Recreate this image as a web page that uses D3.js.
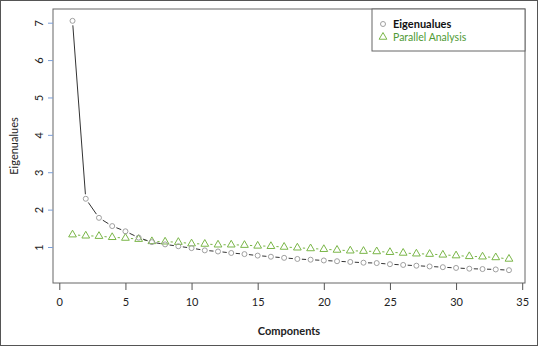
<!DOCTYPE html>
<html>
<head>
<meta charset="utf-8">
<script src="https://cdn.jsdelivr.net/npm/d3@7"></script>
<style>
  body { margin: 0; background: #fff; }
  svg text { font-family: Lato, "Open Sans", sans-serif; }
</style>
</head>
<body>
<div id="chart"></div>
<script>
// components 1..34
var components = d3.range(1, 35);
var eigenvalues = [7.05, 2.29, 1.78, 1.56, 1.42, 1.25, 1.13, 1.07, 1.02, 0.97,
                   0.91, 0.88, 0.84, 0.81, 0.77, 0.74, 0.71, 0.68, 0.66, 0.64,
                   0.62, 0.60, 0.58, 0.57, 0.54, 0.52, 0.50, 0.48, 0.46, 0.44,
                   0.42, 0.41, 0.40, 0.38];
var parallel = [1.33, 1.30, 1.29, 1.26, 1.24, 1.21, 1.15, 1.14, 1.13, 1.09,
                1.08, 1.06, 1.06, 1.05, 1.03, 1.02, 1.00, 0.98, 0.96, 0.94,
                0.92, 0.90, 0.89, 0.88, 0.86, 0.84, 0.82, 0.81, 0.79, 0.77,
                0.75, 0.74, 0.72, 0.68];
var xTicks = [0, 5, 10, 15, 20, 25, 30, 35];
var yTicks = [1, 2, 3, 4, 5, 6, 7];
var legendLabels = ["Eigenualues", "Parallel Analysis"];

function init() {
    var w = 538, h = 346;
    var box = {left: 53, top: 9, right: 525, bottom: 283};

    var xScale = d3.scaleLinear().domain([0, 35]).range([59.3, 522.2]);
    var yScale = d3.scaleLinear().domain([1, 7]).range([247, 22.7]);

    var svg = d3.select("#chart").append("svg")
        .attr("width", w)
        .attr("height", h);

    // outer frame
    svg.append("rect")
        .attr("x", 0.5).attr("y", 0.5)
        .attr("width", w - 1).attr("height", h - 1)
        .attr("fill", "#fff").attr("stroke", "#555");

    // plot box
    svg.append("rect")
        .attr("x", box.left).attr("y", box.top)
        .attr("width", box.right - box.left).attr("height", box.bottom - box.top)
        .attr("fill", "none").attr("stroke", "#666");

    // x axis
    var xAxis = d3.axisBottom(xScale).tickValues(xTicks).tickSize(7).tickPadding(8)
        .tickFormat(d3.format("d"));
    var gx = svg.append("g")
        .attr("transform", "translate(0," + box.bottom + ")")
        .call(xAxis);
    gx.select(".domain").remove();
    gx.selectAll(".tick line").attr("stroke", "#555");
    gx.selectAll(".tick text")
        .attr("font-size", 11).attr("fill", "#222")
        .attr("font-family", "Lato, sans-serif");

    // y axis
    var yAxis = d3.axisLeft(yScale).tickValues(yTicks).tickSize(5).tickPadding(0)
        .tickFormat(d3.format("d"));
    var gy = svg.append("g")
        .attr("transform", "translate(" + box.left + ",0)")
        .call(yAxis);
    gy.select(".domain").remove();
    gy.selectAll(".tick line").attr("stroke", "#7c9fd8");
    gy.selectAll(".tick text")
        .attr("font-size", 11).attr("fill", "#222")
        .attr("font-family", "Lato, sans-serif")
        .attr("text-anchor", "middle")
        .attr("dy", null)
        .attr("x", null)
        .attr("transform", "translate(-15,0) rotate(-90)")
        .attr("dominant-baseline", "central");

    // axis labels
    svg.append("text")
        .attr("x", (box.left + box.right) / 2)
        .attr("y", 335)
        .attr("text-anchor", "middle")
        .attr("font-size", 11)
        .attr("font-weight", "bold")
        .attr("fill", "#222")
        .text("Components");

    svg.append("text")
        .attr("transform", "translate(18," + ((box.top + box.bottom) / 2) + ") rotate(-90)")
        .attr("text-anchor", "middle")
        .attr("font-size", 11)
        .attr("fill", "#222")
        .text("Eigenualues");

    // segments between points, with a gap round each point (like type = "b")
    function gapped(values, gap) {
        var segs = [];
        for (var i = 0; i < values.length - 1; i++) {
            var x1 = xScale(components[i]), y1 = yScale(values[i]);
            var x2 = xScale(components[i + 1]), y2 = yScale(values[i + 1]);
            var dx = x2 - x1, dy = y2 - y1, len = Math.sqrt(dx * dx + dy * dy);
            if (len > 2 * gap) {
                var ux = dx / len, uy = dy / len;
                segs.push([x1 + ux * gap, y1 + uy * gap, x2 - ux * gap, y2 - uy * gap]);
            }
        }
        return segs;
    }

    svg.selectAll(".pa-seg")
        .data(gapped(parallel, 5.5))
        .enter().append("line")
        .attr("class", "pa-seg")
        .attr("x1", function(d) { return d[0]; })
        .attr("y1", function(d) { return d[1]; })
        .attr("x2", function(d) { return d[2]; })
        .attr("y2", function(d) { return d[3]; })
        .attr("stroke", "#7ab648")
        .attr("stroke-width", 1);

    svg.selectAll(".eig-seg")
        .data(gapped(eigenvalues, 4.5))
        .enter().append("line")
        .attr("class", "eig-seg")
        .attr("x1", function(d) { return d[0]; })
        .attr("y1", function(d) { return d[1]; })
        .attr("x2", function(d) { return d[2]; })
        .attr("y2", function(d) { return d[3]; })
        .attr("stroke", "#333")
        .attr("stroke-width", 1);

    var tri = d3.symbol().type(d3.symbolTriangle).size(26);

    svg.selectAll(".pa-pt")
        .data(parallel)
        .enter().append("path")
        .attr("class", "pa-pt")
        .attr("d", tri)
        .attr("transform", function(d, i) {
            return "translate(" + xScale(components[i]) + "," + yScale(d) + ")";
        })
        .attr("fill", "none")
        .attr("stroke", "#7ab648")
        .attr("stroke-width", 1);

    svg.selectAll(".eig-pt")
        .data(eigenvalues)
        .enter().append("circle")
        .attr("class", "eig-pt")
        .attr("cx", function(d, i) { return xScale(components[i]); })
        .attr("cy", function(d) { return yScale(d); })
        .attr("r", 2.5)
        .attr("fill", "none")
        .attr("stroke", "#a0a0a0")
        .attr("stroke-width", 1);

    // legend
    var lg = svg.append("g");
    lg.append("rect")
        .attr("x", 372).attr("y", box.top)
        .attr("width", box.right - 372).attr("height", 42)
        .attr("fill", "#fff").attr("stroke", "#666");
    lg.append("circle")
        .attr("cx", 383).attr("cy", 24).attr("r", 2.5)
        .attr("fill", "none").attr("stroke", "#a0a0a0");
    lg.append("path")
        .attr("d", tri)
        .attr("transform", "translate(383,37)")
        .attr("fill", "none").attr("stroke", "#7ab648");
    lg.append("text")
        .attr("x", 393).attr("y", 24).attr("dy", "0.35em")
        .attr("font-size", 11).attr("font-weight", "bold").attr("fill", "#111")
        .text(legendLabels[0]);
    lg.append("text")
        .attr("x", 393).attr("y", 37).attr("dy", "0.35em")
        .attr("font-size", 10.5).attr("fill", "#4f9a35")
        .text(legendLabels[1]);
}
window.onload = init;
</script>
</body>
</html>
